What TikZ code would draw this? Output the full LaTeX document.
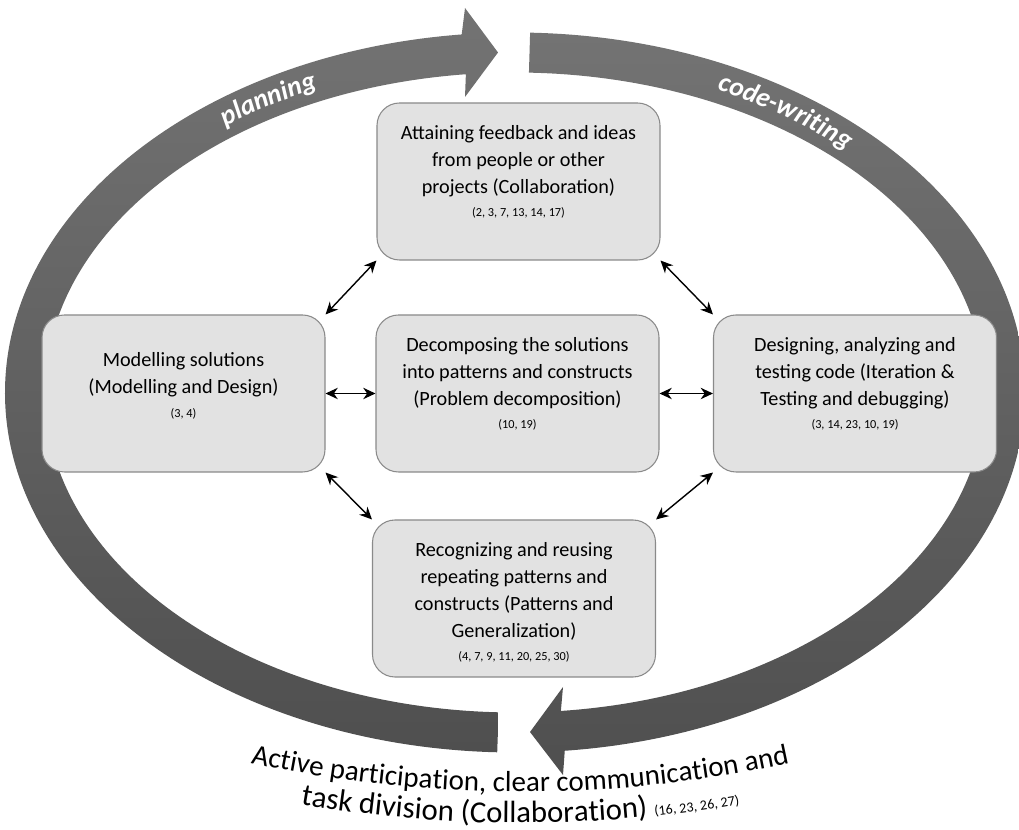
\documentclass[tikz,border=0pt]{standalone}
\usepackage{fontspec}
\setmainfont{Carlito}
\usepackage{xcolor}
\usepackage{tikz}
\usetikzlibrary{arrows.meta, positioning, decorations.text}

\definecolor{ringtop}{HTML}{737373}
\definecolor{ringbot}{HTML}{4F4F4F}
\definecolor{boxfill}{HTML}{E2E2E2}
\definecolor{boxline}{HTML}{8A8A8A}
\pgfdeclarehorizontalshading{ringfill}{100bp}{color(0bp)=(gray!70); color(22bp)=(white); color(78bp)=(white); color(100bp)=(gray!70)}

\newcommand{\refnums}[1]{{\fontsize{7}{8}\selectfont #1}}
\newcommand{\bandfont}{\fontsize{15.5}{15.5}\selectfont\bfseries\itshape}
\newcommand{\captionfont}{\fontsize{16.5}{16.5}\selectfont}
\newcommand{\captionfontb}{\fontsize{17.5}{17.5}\selectfont}
\newcommand{\refsmall}{\fontsize{8}{8}\selectfont}

\tikzset{
  stagebox/.style={draw=boxline, fill=boxfill, line width=0.6pt, rounded corners=0.45cm,
    minimum width=5.66cm, minimum height=3.14cm},
  stagetext/.style={align=center, font=\fontsize{11.5}{15.3}\selectfont, inner sep=0pt},
  link/.style={{Stealth[length=7pt,width=6.5pt]}-{Stealth[length=7pt,width=6.5pt]}, line width=0.8pt},
  ringshade/.style={top color=ringtop, bottom color=ringbot},
}

\begin{document}
\begin{tikzpicture}
  \useasboundingbox (0,0) rectangle (20.38,16.6);
  \coordinate (ctr) at (10.3,8.75);

  % inside of the ring
  \shade[shading=ringfill] (ctr) ellipse [x radius=9.4, y radius=6.4];

  % planning (left half)
  \shade[ringshade] ([shift={(268:10.2 and 7.2)}]ctr)
    arc[start angle=268, end angle=96, x radius=10.2, y radius=7.2]
    -- (9.30,16.44) -- (9.96,15.55) -- (9.30,14.66)
    -- ([shift={(96:9.4 and 6.4)}]ctr)
    arc[start angle=96, end angle=268, x radius=9.4, y radius=6.4] -- cycle;

  % code-writing (right half)
  \shade[ringshade] ([shift={(88.3:10.2 and 7.2)}]ctr)
    arc[start angle=88.3, end angle=-84.4, x radius=10.2, y radius=7.2]
    -- (11.26,1.10) -- (10.60,1.96) -- (11.26,2.86)
    -- ([shift={(-84.4:9.4 and 6.4)}]ctr)
    arc[start angle=-84.4, end angle=88.3, x radius=9.4, y radius=6.4] -- cycle;

  \path[decorate, decoration={text along path, text color=white, text align=center,
      text={|\bandfont|planning}}]
    ([shift={(137:9.66 and 6.66)}]ctr) arc[start angle=137, end angle=105, x radius=9.66, y radius=6.66];
  \path[decorate, decoration={text along path, text color=white, text align=center,
      text={|\bandfont|code-writing}}]
    ([shift={(77:9.66 and 6.66)}]ctr) arc[start angle=77, end angle=33, x radius=9.66, y radius=6.66];

  % boxes
  \node[stagebox] (collab) at (10.37,12.97) {};
  \node[stagebox] (model) at (3.67,8.73) {};
  \node[stagebox] (decomp) at (10.35,8.73) {};
  \node[stagebox] (iter) at (17.10,8.73) {};
  \node[stagebox] (pattern) at (10.28,4.63) {};

  \node[stagetext, below=0.46cm of collab.north] (collabtxt)
    {Attaining feedback and ideas\\from people or other\\projects (Collaboration)\\[-2pt]\refnums{(2, 3, 7, 13, 14, 17)}};
  \node[stagetext, below=0.76cm of model.north] (modeltxt)
    {Modelling solutions\\(Modelling and Design)\\[-2pt]\refnums{(3, 4)}};
  \node[stagetext, below=0.46cm of decomp.north] (decomptxt)
    {Decomposing the solutions\\into patterns and constructs\\(Problem decomposition)\\[-2pt]\refnums{(10, 19)}};
  \node[stagetext, below=0.46cm of iter.north] (itertxt)
    {Designing, analyzing and\\testing code (Iteration \&\\Testing and debugging)\\[-2pt]\refnums{(3, 14, 23, 10, 19)}};
  \node[stagetext, below=0.46cm of pattern.north] (patterntxt)
    {Recognizing and reusing\\repeating patterns and\\constructs (Patterns and\\Generalization)\\[-2pt]\refnums{(4, 7, 9, 11, 20, 25, 30)}};

  % links
  \draw[link] (model.north east) -- (collab.south west);
  \draw[link] (collab.south east) -- (iter.north west);
  \draw[link] (model.east) -- (decomp.west);
  \draw[link] (decomp.east) -- (iter.west);
  \draw[link] (model.south east) -- (pattern.north west);
  \draw[link] (iter.south west) -- (pattern.north east);

  % caption under the ring
  \coordinate (arcc) at (10.4,26.18);
  \path[decorate, decoration={text along path, text align=center,
      text={|\captionfont|Active participation, clear communication and}}]
    ([shift={(254:25.42)}]arcc) arc[start angle=254, end angle=286, radius=25.42];
  \path[decorate, decoration={text along path, text align=center,
      text={|\captionfontb|task division (Collaboration) |\refsmall|(16, 23, 26, 27)}}]
    ([shift={(255:26.04)}]arcc) arc[start angle=255, end angle=285, radius=26.04];
\end{tikzpicture}
\end{document}
